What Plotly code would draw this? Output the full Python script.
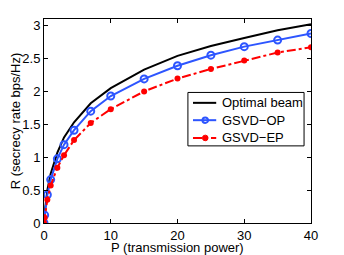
import plotly.graph_objects as go

P = [0, 0.1, 0.5, 1, 2, 3, 4.5, 7, 10, 15, 20, 25, 30, 35, 40]
R_opt = [0, 0.15, 0.50, 0.75, 1.07, 1.30, 1.53, 1.82, 2.05, 2.33, 2.54, 2.69, 2.81, 2.93, 3.02]
R_op = [0, 0.12, 0.43, 0.66, 0.975, 1.19, 1.41, 1.70, 1.93, 2.19, 2.39, 2.55, 2.68, 2.78, 2.88]
R_ep = [0, 0.08, 0.355, 0.57, 0.84, 1.03, 1.26, 1.52, 1.73, 2.00, 2.195, 2.34, 2.47, 2.59, 2.67]

series_names = ["Optimal beam", "GSVD\u2212OP", "GSVD\u2212EP"]
xticks = [0, 10, 20, 30, 40]
yticks = [0, 0.5, 1, 1.5, 2, 2.5, 3]
x_title = "P (transmission power)"
y_title = "R (secrecy rate bps/Hz)"

font = "Liberation Sans, Arial, sans-serif"
blue = "rgb(45,85,255)"
red = "rgb(255,0,0)"

fig = go.Figure()
fig.add_trace(go.Scatter(x=P, y=R_opt, mode="lines", name=series_names[0],
                         line=dict(color="black", width=2)))
fig.add_trace(go.Scatter(x=P, y=R_op, mode="lines+markers", name=series_names[1],
                         line=dict(color=blue, width=2),
                         marker=dict(symbol="circle-open", size=7, color=blue,
                                     line=dict(width=2, color=blue))))
fig.add_trace(go.Scatter(x=P, y=R_ep, mode="lines+markers", name=series_names[2],
                         line=dict(color=red, width=2, dash="dashdot"),
                         marker=dict(symbol="circle", size=6, color=red)))

axis_common = dict(showgrid=False, zeroline=False, showline=True, linecolor="black",
                   linewidth=1, mirror="ticks", ticks="inside", ticklen=4,
                   tickcolor="black", automargin=False,
                   tickfont=dict(family=font, size=13, color="black"))

# --- compact legend box drawn in paper coordinates (layout, not data) ---
pw, ph = 266.8, 203.7          # plot-area size in px
px = 1.0 / pw
py = 1.0 / ph
box = dict(x0=0.539, x1=0.974, y0=0.378, y1=0.640)
rows = [0.589, 0.504, 0.417]
lx0, lx1, mx, tx = 0.558, 0.645, 0.604, 0.658
styles = [
    dict(color="black", dash="solid", marker=None),
    dict(color=blue, dash="solid", marker="open"),
    dict(color=red, dash="dashdot", marker="filled"),
]

shapes = [dict(type="rect", xref="paper", yref="paper", **box,
               line=dict(color="black", width=1), fillcolor="white", layer="above")]
annotations = []
for name, yr, st in zip(series_names, rows, styles):
    shapes.append(dict(type="line", xref="paper", yref="paper", x0=lx0, x1=lx1, y0=yr, y1=yr,
                       line=dict(color=st["color"], width=2, dash=st["dash"]), layer="above"))
    if st["marker"] == "open":
        r = 2.8
        shapes.append(dict(type="circle", xref="paper", yref="paper",
                           x0=mx - r * px, x1=mx + r * px, y0=yr - r * py, y1=yr + r * py,
                           line=dict(color=blue, width=2), fillcolor="rgba(0,0,0,0)", layer="above"))
    elif st["marker"] == "filled":
        r = 2.8
        shapes.append(dict(type="circle", xref="paper", yref="paper",
                           x0=mx - r * px, x1=mx + r * px, y0=yr - r * py, y1=yr + r * py,
                           line=dict(color=red, width=1), fillcolor=red, layer="above"))
    annotations.append(dict(xref="paper", yref="paper", x=tx, y=yr, text=name,
                            showarrow=False, xanchor="left", yanchor="middle",
                            font=dict(family=font, size=13, color="black")))

# x-axis title placed as a paper annotation just below the tick labels
annotations.append(dict(xref="paper", yref="paper", x=0.5, y=-0.122, text=x_title,
                        showarrow=False, xanchor="center", yanchor="middle",
                        font=dict(family=font, size=13, color="black")))

# the page adds an 8px body margin, so margins are compensated
fig.update_layout(
    width=344, height=255,
    margin=dict(l=36, r=41, t=11, b=40),
    paper_bgcolor="white", plot_bgcolor="white",
    font=dict(family=font, size=13, color="black"),
    showlegend=False,
    shapes=shapes,
    annotations=annotations,
    xaxis=dict(range=[0, 40], tickvals=xticks, **axis_common),
    yaxis=dict(range=[0, 3.1], tickvals=yticks,
               title=dict(text=y_title, standoff=5,
                          font=dict(family=font, size=13)),
               **axis_common),
)

fig.write_html("out.html")
